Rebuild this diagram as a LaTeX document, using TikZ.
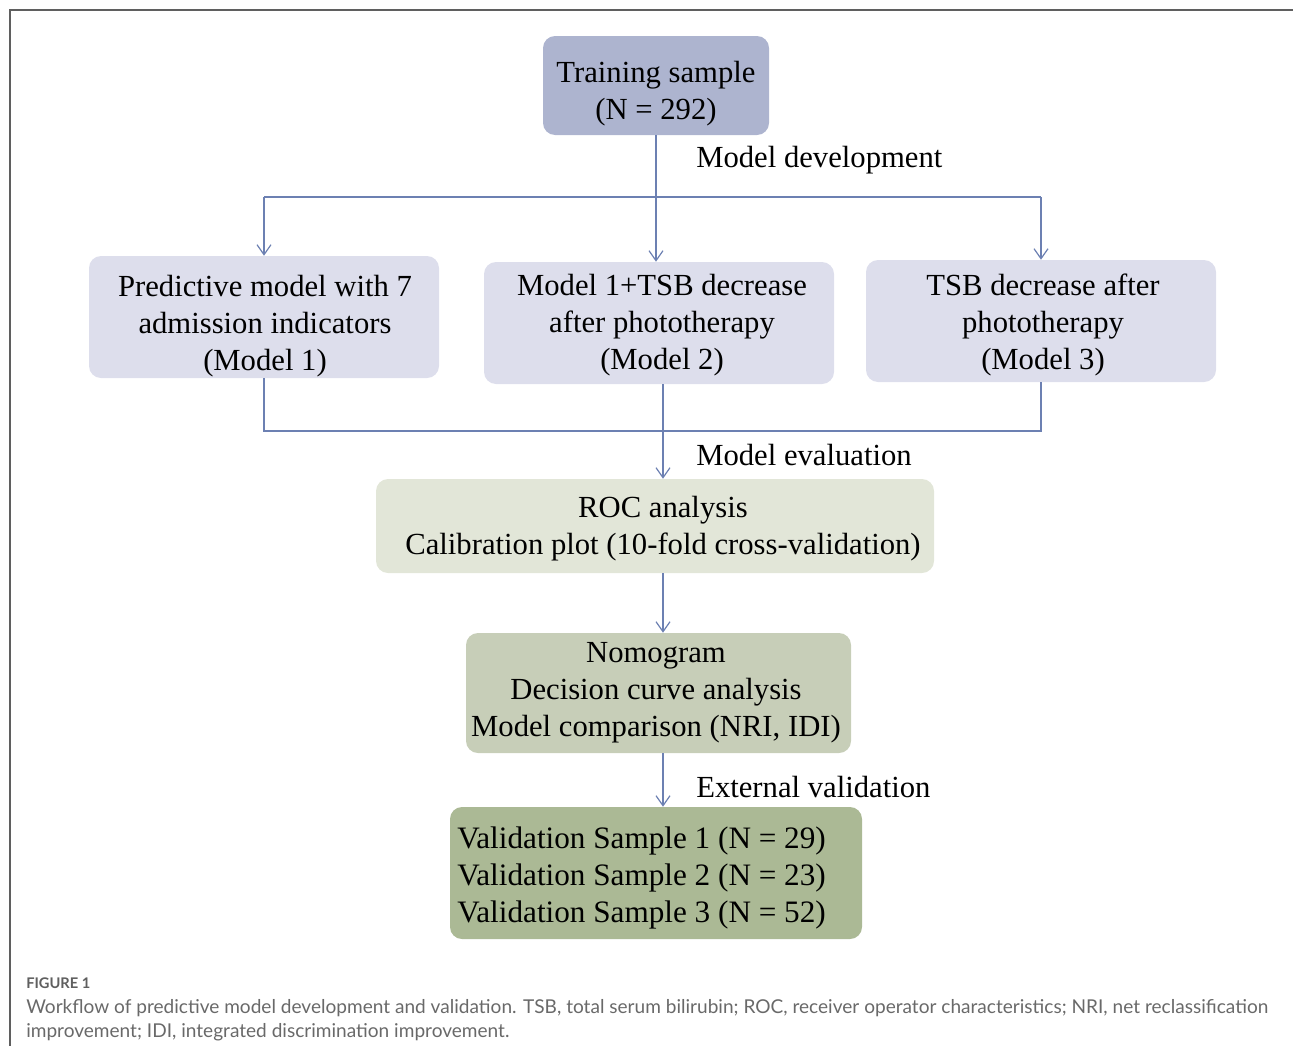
\documentclass[tikz,border=0pt]{standalone}
\usepackage{fontspec}
\setmainfont{Liberation Serif}
\newfontfamily\capfont{Lato}
\usetikzlibrary{arrows.meta}
\definecolor{trainfill}{RGB}{173,180,207}
\definecolor{modelfill}{RGB}{221,222,236}
\definecolor{rocfill}{RGB}{226,230,216}
\definecolor{nomfill}{RGB}{199,206,184}
\definecolor{valfill}{RGB}{171,185,149}
\definecolor{conncol}{RGB}{108,128,178}
\definecolor{framecol}{RGB}{95,95,95}
\definecolor{capcol}{RGB}{105,105,105}
\begin{document}
\begin{tikzpicture}[x=0.75pt,y=-0.75pt,
  box/.style={rounded corners=9pt, inner sep=0pt},
  txt/.style={inner sep=0pt, align=center, text=black,
    font=\fontsize{23}{27.75}\selectfont},
  lbl/.style={anchor=west, inner sep=0pt, font=\fontsize{23}{27.75}\selectfont},
  conn/.style={draw=conncol, line width=0.9pt},
  arr/.style={conn, -{Straight Barb[length=7.5pt,width=10.5pt,line width=0.9pt]}},
]
\useasboundingbox (0,0) rectangle (1293,1046);
\draw[framecol, line width=1.2pt] (1293,10) -- (10,10) -- (10,1046);

% boxes
\node[box, fill=trainfill, minimum width=169.5pt, minimum height=74.25pt] (train) at (656,85.5) {};
\node[box, fill=modelfill, minimum width=262.5pt, minimum height=91.5pt] (m1) at (264,317) {};
\node[box, fill=modelfill, minimum width=262.5pt, minimum height=91.5pt] (m2) at (659,323) {};
\node[box, fill=modelfill, minimum width=262.5pt, minimum height=91.5pt] (m3) at (1041,321) {};
\node[box, fill=rocfill, minimum width=418.5pt, minimum height=70.5pt] (roc) at (655,526) {};
\node[box, fill=nomfill, minimum width=288.75pt, minimum height=90pt] (nom) at (658.5,693) {};
\node[box, fill=valfill, minimum width=309pt, minimum height=99pt] (val) at (656,873) {};

% texts
\node[txt] (traint) at (656,93.5) {Training sample\\(N = 292)};
\node[txt] (m1t) at (265,326) {Predictive model with 7\\admission indicators\\(Model 1)};
\node[txt] (m2t) at (662,325) {Model 1+TSB decrease\\after phototherapy\\(Model 2)};
\node[txt] (m3t) at (1043,325) {TSB decrease after\\phototherapy\\(Model 3)};
\node[txt] (roct) at (663,528.5) {ROC analysis\\Calibration plot (10-fold cross-validation)};
\node[txt] (nomt) at (656,693) {Nomogram\\Decision curve analysis\\Model comparison (NRI, IDI)};
\node[txt, align=left, anchor=west, font=\fontsize{23.4}{27.75}\selectfont] (valt) at (457,878) {Validation Sample 1 (N = 29)\\Validation Sample 2 (N = 23)\\Validation Sample 3 (N = 52)};

\node[lbl] (ldev) at (696,160) {Model development};
\node[lbl] (leval) at (696,455) {Model evaluation};
\node[lbl] (lext) at (696,787) {External validation};

% model development
\coordinate (split) at (656,197);
\coordinate (join) at (663,431);
\draw[arr] (train.south) -- (train.south |- m2.north);
\draw[conn] (m1.north |- split) -- (m3.north |- split);
\draw[arr] (m1.north |- split) -- (m1.north);
\draw[arr] (m3.north |- split) -- (m3.north);
% model evaluation
\draw[conn] (m1.south) -- (m1.south |- join) -- (m3.south |- join) -- (m3.south);
\draw[arr] (join |- m2.south) -- (join |- roc.north);
\draw[arr] (join |- roc.south) -- (join |- nom.north);
\draw[arr] (join |- nom.south) -- (join |- val.north);

% caption
\node[anchor=west, inner sep=0pt, text=framecol, font=\capfont\bfseries\fontsize{11}{12}\selectfont] (figno) at (26,983) {FIGURE 1};
\node[anchor=north west, inner sep=0pt, text=capcol, align=left,
  font=\capfont\fontsize{14.3}{18}\selectfont] (cap) at (26,999)
  {Workflow of predictive model development and validation. TSB, total serum bilirubin; ROC, receiver operator characteristics; NRI, net reclassification\\
   improvement; IDI, integrated discrimination improvement.};
\end{tikzpicture}
\end{document}
